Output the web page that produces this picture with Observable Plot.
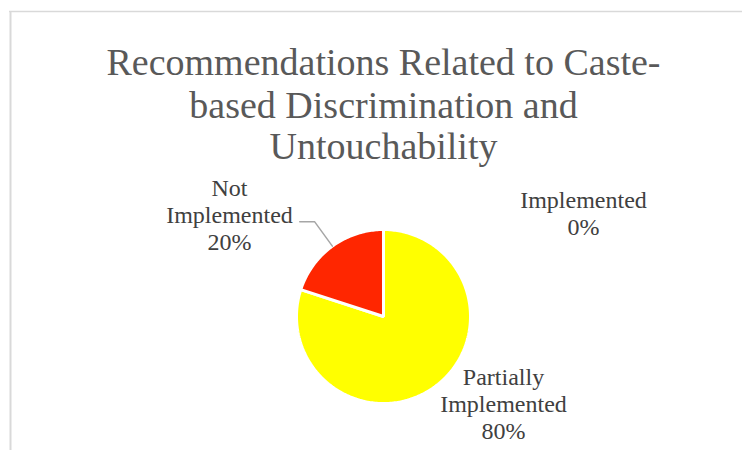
<!DOCTYPE html>
<html>
<head>
<meta charset="utf-8">
<script src="https://cdn.jsdelivr.net/npm/d3@7"></script>
<script src="https://cdn.jsdelivr.net/npm/@observablehq/plot@0.6"></script>
<style>
  html, body { margin: 0; padding: 0; background: #ffffff; }
</style>
</head>
<body>
<div id="chart"></div>
<script>
// ---- Data ----
const categories = ["Implemented", "Partially Implemented", "Not Implemented"];
const values = [0, 80, 20];
const percentLabels = ["0%", "80%", "20%"];
const labelNames = ["Implemented", "Partially\nImplemented", "Not\nImplemented"];
const titleLines = ["Recommendations Related to Caste-", "based Discrimination and", "Untouchability"];

// ---- Layout / style ----
const W = 742, H = 450;
const cx = 383, cy = 316, R = 87;
const sliceColors = ["#4472c4", "#ffff00", "#ff2600"];
const labelPos = {
  "Implemented": [583, 212],
  "Partially Implemented": [503, 403],
  "Not Implemented": [229, 214]
};

// ---- Pie geometry from data ----
const arcs = d3.pie().sort(null).value(d => d)(values);
const polyPts = [];
arcs.forEach((a, i) => {
  if (values[i] <= 0) return;
  const cat = categories[i];
  polyPts.push({cat, x: cx, y: cy});
  const n = Math.max(2, Math.ceil((a.endAngle - a.startAngle) / (Math.PI / 180)));
  for (let k = 0; k <= n; k++) {
    const t = a.startAngle + (a.endAngle - a.startAngle) * k / n;
    polyPts.push({cat, x: cx + R * Math.sin(t), y: cy - R * Math.cos(t)});
  }
  polyPts.push({cat, x: cx, y: cy});
});

// Leader line for "Not Implemented" (from arc mid-point outward, then horizontal)
const ni = categories.indexOf("Not Implemented");
const mid = (arcs[ni].startAngle + arcs[ni].endAngle) / 2;
const leader = [
  {x: cx + R * Math.sin(mid), y: cy - R * Math.cos(mid)},
  {x: cx + (R + 30) * Math.sin(mid), y: cy - (R + 30) * Math.cos(mid)},
  {x: cx + (R + 30) * Math.sin(mid) - 15, y: cy - (R + 30) * Math.cos(mid)}
];

const labelData = categories.map((c, i) => ({
  cat: c,
  text: labelNames[i] + "\n" + percentLabels[i],
  x: labelPos[c][0],
  y: labelPos[c][1]
}));

const titleData = titleLines.map((t, i) => ({t, i}));
const titleY = [62, 105, 146];

const plot = Plot.plot({
  width: W,
  height: H,
  margin: 0,
  x: {domain: [0, W], axis: null},
  y: {domain: [H, 0], axis: null},
  color: {domain: categories, range: sliceColors},
  style: "background:#ffffff;",
  marks: [
    // chart area border (left & top, as in the reference crop)
    Plot.ruleX([10], {y1: 11, y2: H, stroke: "#d9d9d9", strokeWidth: 2}),
    Plot.ruleY([11], {x1: 9, x2: W, stroke: "#d9d9d9", strokeWidth: 1.5}),
    // pie slices
    Plot.line(polyPts, {x: "x", y: "y", z: "cat", fill: "cat", stroke: "#ffffff", strokeWidth: 3, strokeLinejoin: "miter", curve: "linear-closed"}),
    // leader line
    Plot.line(leader, {x: "x", y: "y", stroke: "#a6a6a6", strokeWidth: 1.5}),
    // data labels
    Plot.text(labelData, {x: "x", y: "y", text: "text", fill: "#404040", fontSize: 24, lineHeight: 1.12, textAnchor: "middle", lineAnchor: "middle", fontFamily: "Liberation Serif"}),
    // title
    Plot.text(titleData, {x: () => 383, y: d => titleY[d.i], text: "t", fill: "#595959", fontSize: 38, textAnchor: "middle", lineAnchor: "middle", fontFamily: "Liberation Serif"})
  ]
});
document.getElementById("chart").appendChild(plot);
plot.querySelectorAll("text").forEach(t => { t.style.fontFamily = "'Liberation Serif'"; getComputedStyle(t).fontFamily; });
</script>
</body>
</html>
